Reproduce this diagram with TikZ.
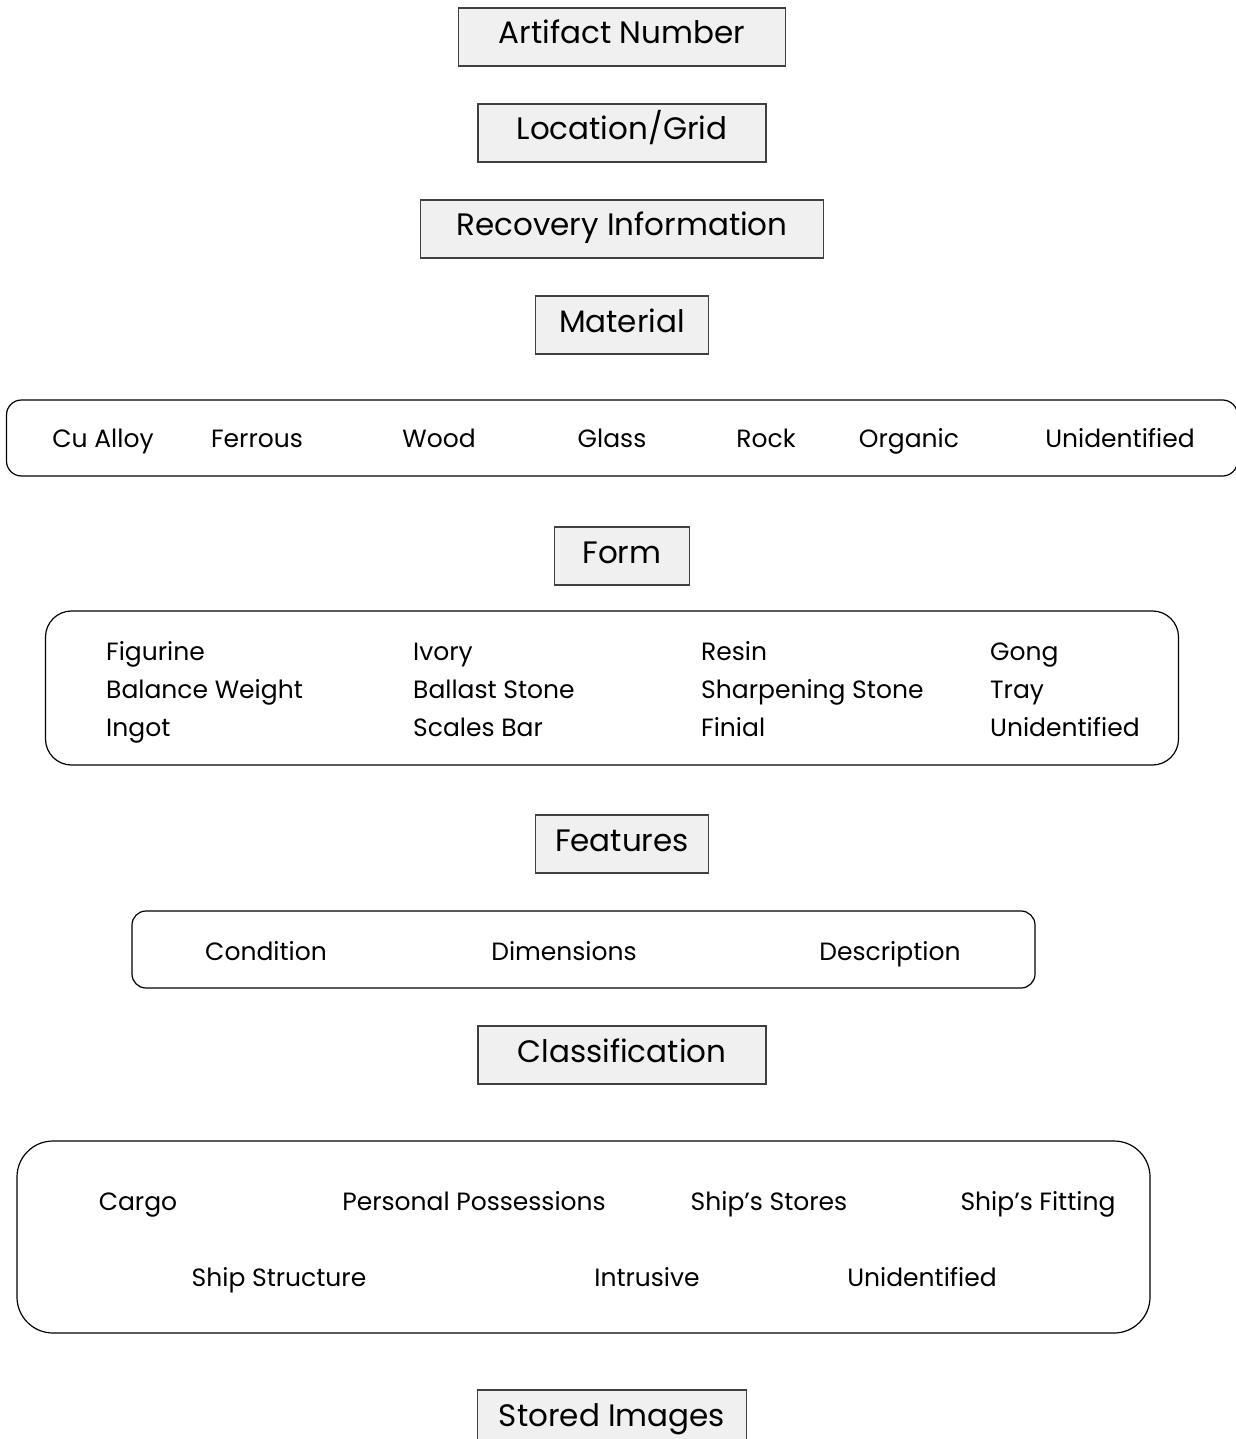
\documentclass[tikz,border=0pt]{standalone}
\usepackage{fontspec}
\setmainfont{Poppins}
\definecolor{headfill}{HTML}{F0F0F0}
\definecolor{edge}{HTML}{404040}
\tikzset{
  head/.style={draw=edge, fill=headfill, line width=1.2pt, inner sep=0pt,
    minimum height=58, text height=22pt, text depth=8pt,
    font=\fontsize{31}{36}\selectfont},
  group/.style={draw=black, line width=1.2pt, inner sep=0pt},
  item/.style={inner sep=0pt, anchor=base, font=\fontsize{25}{30}\selectfont},
  itemleft/.style={item, anchor=base west}
}
\begin{document}
\begin{tikzpicture}[x=1pt,y=-1pt]
\useasboundingbox (0,0) rectangle (1235,1439);

% headers
\node[head, minimum width=327] (artno) at (622,37) {Artifact Number};
\node[head, minimum width=288] (grid) at (622,133) {Location/Grid};
\node[head, minimum width=403] (recov) at (622,229) {Recovery Information};
\node[head, minimum width=173] (material) at (622,325) {Material};
\node[head, minimum width=135] (form) at (622,556) {Form};
\node[head, minimum width=173] (features) at (622,844) {Features};
\node[head, minimum width=288] (classif) at (622,1055) {Classification};
\node[head, minimum width=269] (images) at (612,1419) {Stored Images};

% material
\node[group, rounded corners=15, minimum width=1231, minimum height=76] (matbox) at (622,438) {};
\node[item] (cu) at (103,447) {Cu Alloy};
\node[item] (ferrous) at (257,447) {Ferrous};
\node[item] (wood) at (439,447) {Wood};
\node[item] (glass) at (612,447) {Glass};
\node[item] (rock) at (766,447) {Rock};
\node[item] (organic) at (909,447) {Organic};
\node[item] (matunid) at (1120,447) {Unidentified};

% form
\node[group, rounded corners=26, minimum width=1133, minimum height=154] (formbox) at (612,688) {};
\foreach \t [count=\i] in {Figurine,Balance Weight,Ingot}
  \node[itemleft] (fa\i) at (106,622+38*\i) {\t};
\foreach \t [count=\i] in {Ivory,Ballast Stone,Scales Bar}
  \node[itemleft] (fb\i) at (413,622+38*\i) {\t};
\foreach \t [count=\i] in {Resin,Sharpening Stone,Finial}
  \node[itemleft] (fc\i) at (701,622+38*\i) {\t};
\foreach \t [count=\i] in {Gong,Tray,Unidentified}
  \node[itemleft] (fd\i) at (990,622+38*\i) {\t};

% features
\node[group, rounded corners=14, minimum width=903, minimum height=77] (featbox) at (583.5,949.5) {};
\node[item] (cond) at (266,960) {Condition};
\node[item] (dims) at (564,960) {Dimensions};
\node[item] (descr) at (890,960) {Description};

% classification
\node[group, rounded corners=36, minimum width=1133, minimum height=192] (classbox) at (583.5,1237) {};
\node[item] (cargo) at (138,1210) {Cargo};
\node[item] (personal) at (474,1210) {Personal Possessions};
\node[item] (stores) at (769,1210) {Ship’s Stores};
\node[item] (fitting) at (1038,1210) {Ship’s Fitting};
\node[item] (structure) at (279,1286) {Ship Structure};
\node[item] (intrusive) at (647,1286) {Intrusive};
\node[item] (classunid) at (922,1286) {Unidentified};

\end{tikzpicture}
\end{document}
